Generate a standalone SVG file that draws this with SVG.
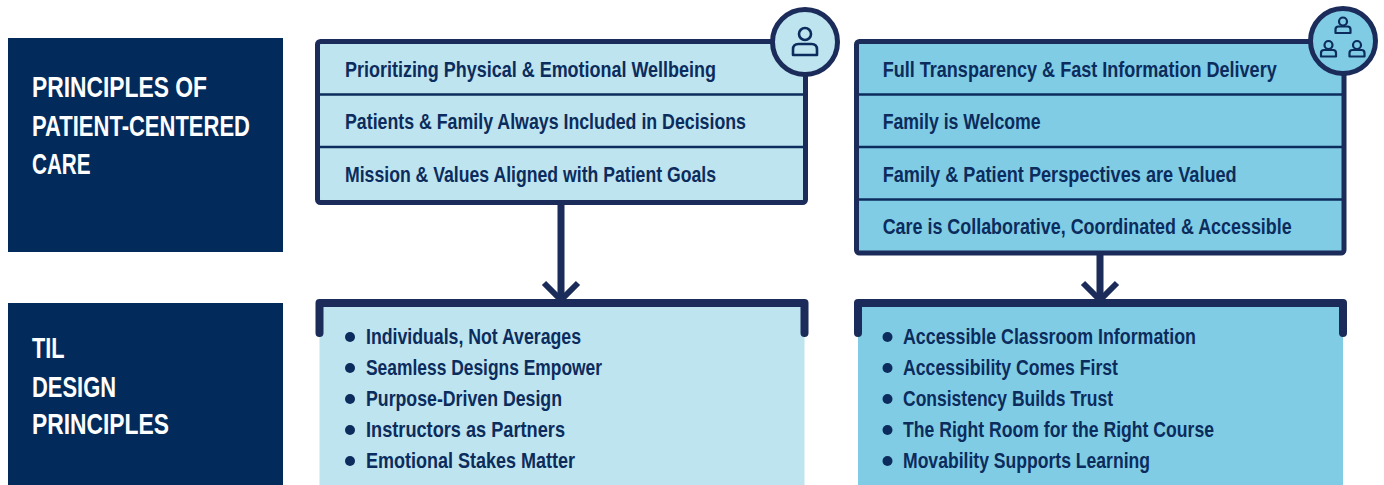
<svg xmlns="http://www.w3.org/2000/svg" width="1384" height="485" viewBox="0 0 1384 485">
<style>
.hdr{fill:#022B5C}
.hdrt{font-family:"Liberation Sans",Arial,sans-serif;font-weight:bold;font-size:30px;fill:#FFFFFF}
.t{font-family:"Liberation Sans",Arial,sans-serif;font-weight:bold;font-size:22px;fill:#0B2C5C}
.frame{stroke:#1B2B5A;stroke-width:5;stroke-linejoin:round}
.sep{stroke:#0B2C5C;stroke-width:2.5}
.light{fill:#BEE4F0}
.mid{fill:#80CCE5}
.bracket{fill:none;stroke:#1B2B5A;stroke-width:8;stroke-linecap:round;stroke-linejoin:round}
.conn{fill:none;stroke:#1B2B5A;stroke-width:7;stroke-linecap:round}
.chev{fill:none;stroke:#1B2B5A;stroke-width:6}
.icon{fill:none;stroke:#0B2C5C;stroke-width:2.6;stroke-linejoin:round}
.iconS{fill:none;stroke:#0B2C5C;stroke-width:2.2;stroke-linejoin:round}
.dot{fill:#0B2C5C}
</style>

<g id="header-pcc">
<rect class="hdr" x="8" y="38" width="275" height="214"/>
<text class="hdrt" x="32" y="97" textLength="175" lengthAdjust="spacingAndGlyphs">PRINCIPLES OF</text>
<text class="hdrt" x="32" y="135.5" textLength="218" lengthAdjust="spacingAndGlyphs">PATIENT-CENTERED</text>
<text class="hdrt" x="32" y="174" textLength="58.6" lengthAdjust="spacingAndGlyphs">CARE</text>
</g>

<g id="header-til">
<rect class="hdr" x="8" y="303" width="275" height="182"/>
<text class="hdrt" x="32" y="358" textLength="32.5" lengthAdjust="spacingAndGlyphs">TIL</text>
<text class="hdrt" x="32" y="396.5" textLength="84" lengthAdjust="spacingAndGlyphs">DESIGN</text>
<text class="hdrt" x="32" y="434" textLength="137" lengthAdjust="spacingAndGlyphs">PRINCIPLES</text>
</g>

<g id="connectors">
<line class="conn" x1="561" y1="203" x2="561" y2="298"/>
<polyline class="chev" points="544,283 561,300 578,283"/>
<line class="conn" x1="1100" y1="253" x2="1100" y2="298"/>
<polyline class="chev" points="1083,283 1100,300 1117,283"/>
</g>

<g id="pcc-individual">
<rect class="light frame" x="317.5" y="41.5" width="488" height="161" rx="3"/>
<line class="sep" x1="320" y1="94.5" x2="803" y2="94.5"/>
<line class="sep" x1="320" y1="147" x2="803" y2="147"/>
<text class="t" x="345" y="77.3" textLength="371" lengthAdjust="spacingAndGlyphs">Prioritizing Physical &amp; Emotional Wellbeing</text>
<text class="t" x="345" y="129.3" textLength="401" lengthAdjust="spacingAndGlyphs">Patients &amp; Family Always Included in Decisions</text>
<text class="t" x="345" y="181.5" textLength="371" lengthAdjust="spacingAndGlyphs">Mission &amp; Values Aligned with Patient Goals</text>
<circle class="light frame" cx="805" cy="42" r="32.5"/>
<circle class="icon" cx="805" cy="34" r="6"/>
<path class="icon" d="M793,55 V49.5 Q793,44 798.5,44 H811.5 Q817,44 817,49.5 V55 Z"/>
</g>

<g id="pcc-family">
<rect class="mid frame" x="856.5" y="41.5" width="487.5" height="211.5" rx="3"/>
<line class="sep" x1="859" y1="94.5" x2="1342" y2="94.5"/>
<line class="sep" x1="859" y1="147" x2="1342" y2="147"/>
<line class="sep" x1="859" y1="199.5" x2="1342" y2="199.5"/>
<text class="t" x="882.7" y="77.3" textLength="394" lengthAdjust="spacingAndGlyphs">Full Transparency &amp; Fast Information Delivery</text>
<text class="t" x="882.7" y="129.3" textLength="158" lengthAdjust="spacingAndGlyphs">Family is Welcome</text>
<text class="t" x="882.7" y="181.7" textLength="354" lengthAdjust="spacingAndGlyphs">Family &amp; Patient Perspectives are Valued</text>
<text class="t" x="882.7" y="233.5" textLength="409" lengthAdjust="spacingAndGlyphs">Care is Collaborative, Coordinated &amp; Accessible</text>
<circle class="mid frame" cx="1343" cy="41" r="32.5"/>
<circle class="iconS" cx="1343" cy="21.5" r="4"/>
<path class="iconS" d="M1335.5,33 V29.5 Q1335.5,26.5 1338.5,26.5 H1347.5 Q1350.5,26.5 1350.5,29.5 V33 Z"/>
<circle class="iconS" cx="1328.5" cy="45" r="4"/>
<path class="iconS" d="M1321,56.5 V53 Q1321,50 1324,50 H1333 Q1336,50 1336,53 V56.5 Z"/>
<circle class="iconS" cx="1357" cy="45" r="4"/>
<path class="iconS" d="M1349.5,56.5 V53 Q1349.5,50 1352.5,50 H1361.5 Q1364.5,50 1364.5,53 V56.5 Z"/>
</g>

<g id="til-individual">
<rect class="light" x="319.5" y="303" width="485" height="182"/>
<path class="bracket" d="M319.5,333 V303 H804.5 V333"/>
<circle class="dot" cx="350" cy="337" r="5"/>
<circle class="dot" cx="350" cy="368" r="5"/>
<circle class="dot" cx="350" cy="399" r="5"/>
<circle class="dot" cx="350" cy="430" r="5"/>
<circle class="dot" cx="350" cy="461" r="5"/>
<text class="t" x="366" y="344" textLength="215" lengthAdjust="spacingAndGlyphs">Individuals, Not Averages</text>
<text class="t" x="366" y="375" textLength="236" lengthAdjust="spacingAndGlyphs">Seamless Designs Empower</text>
<text class="t" x="366" y="406" textLength="196" lengthAdjust="spacingAndGlyphs">Purpose-Driven Design</text>
<text class="t" x="366" y="437" textLength="199" lengthAdjust="spacingAndGlyphs">Instructors as Partners</text>
<text class="t" x="366" y="468" textLength="209" lengthAdjust="spacingAndGlyphs">Emotional Stakes Matter</text>
</g>

<g id="til-family">
<rect class="mid" x="858" y="303" width="485" height="182"/>
<path class="bracket" d="M858,333 V303 H1343 V333"/>
<circle class="dot" cx="887.5" cy="337" r="5"/>
<circle class="dot" cx="887.5" cy="368" r="5"/>
<circle class="dot" cx="887.5" cy="399" r="5"/>
<circle class="dot" cx="887.5" cy="430" r="5"/>
<circle class="dot" cx="887.5" cy="461" r="5"/>
<text class="t" x="903" y="344" textLength="293" lengthAdjust="spacingAndGlyphs">Accessible Classroom Information</text>
<text class="t" x="903" y="375" textLength="215" lengthAdjust="spacingAndGlyphs">Accessibility Comes First</text>
<text class="t" x="903" y="406" textLength="210" lengthAdjust="spacingAndGlyphs">Consistency Builds Trust</text>
<text class="t" x="903" y="437" textLength="311" lengthAdjust="spacingAndGlyphs">The Right Room for the Right Course</text>
<text class="t" x="903" y="468" textLength="247" lengthAdjust="spacingAndGlyphs">Movability Supports Learning</text>
</g>
</svg>
